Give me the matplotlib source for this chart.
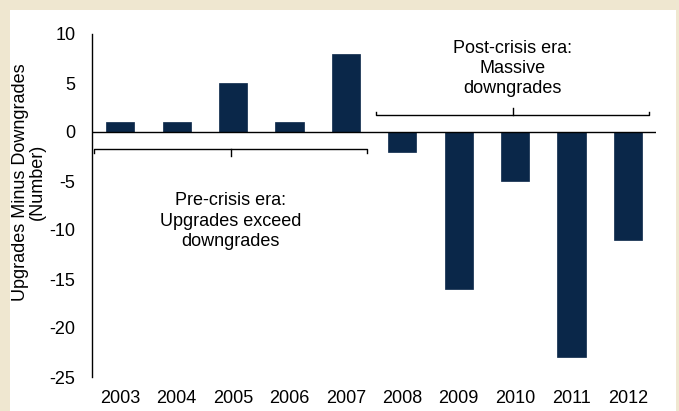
import matplotlib.pyplot as plt
from matplotlib.patches import Rectangle

plt.rcParams['font.family'] = ['Liberation Sans', 'DejaVu Sans']
plt.rcParams['axes.unicode_minus'] = False

years = ['2003', '2004', '2005', '2006', '2007',
         '2008', '2009', '2010', '2011', '2012']
net_upgrades = [1, 1, 5, 1, 8, -2, -16, -5, -23, -11]
y_ticks = [10, 5, 0, -5, -10, -15, -20, -25]

pre_crisis = (0, 4)
post_crisis = (5, 9)
pre_text = 'Pre-crisis era:\nUpgrades exceed\ndowngrades'
post_text = 'Post-crisis era:\nMassive\ndowngrades'
y_title = 'Upgrades Minus Downgrades\n(Number)'

W, H = 679, 411
FS = 13
fig = plt.figure(figsize=(W / 100, H / 100), dpi=100, facecolor='#efe7d0')
# white panel inside the beige frame
fig.patches.append(Rectangle((10 / W, 0), 666 / W, 1 - 10 / H,
                             transform=fig.transFigure, facecolor='white',
                             edgecolor='none', zorder=-1))

ax = fig.add_axes([92 / W, 34 / H, 564 / W, 343 / H])
ax.set_facecolor('none')

x = list(range(len(years)))
ax.bar(x, net_upgrades, width=0.5, color='#0a2749', edgecolor='#0a2749',
       linewidth=0.5, zorder=2)
ax.axhline(0, color='black', linewidth=1, zorder=3)

ax.set_xlim(-0.5, len(years) - 0.5)
ax.set_ylim(-25, 10)
ax.set_yticks(y_ticks)
ax.set_xticks(x)
ax.set_xticklabels(years)
ax.tick_params(axis='both', length=0, labelsize=FS, colors='black')
ax.tick_params(axis='y', pad=12)
ax.tick_params(axis='x', pad=9)

for side in ['top', 'right', 'bottom']:
    ax.spines[side].set_visible(False)
ax.spines['left'].set_linewidth(1)

fig.text(29 / W, 1 - 182 / H, y_title, rotation=90, ha='center',
         va='center', fontsize=FS, linespacing=1.0, multialignment='center')


def bracket(first, last, y, tip, direction):
    # bracket: ends bend toward the bars, centre tick points away
    x0, x1 = first - 0.46, last + 0.38
    xm = (x0 + x1) / 2
    end = y - 0.35 * direction
    ax.plot([x0, x0, x1, x1], [end, y, y, end], color='black',
            linewidth=1, clip_on=False, zorder=4)
    ax.plot([xm, xm], [y, tip], color='black', linewidth=1,
            clip_on=False, zorder=4)
    return xm


xm = bracket(*pre_crisis, y=-1.75, tip=-2.45, direction=1)
ax.text(xm, -9.1, pre_text, ha='center', va='center', fontsize=FS,
        linespacing=1.25)

xm = bracket(*post_crisis, y=1.7, tip=2.45, direction=-1)
ax.text(xm, 6.5, post_text, ha='center', va='center', fontsize=FS,
        linespacing=1.25)

fig.savefig('out.png', dpi=100, facecolor=fig.get_facecolor())
